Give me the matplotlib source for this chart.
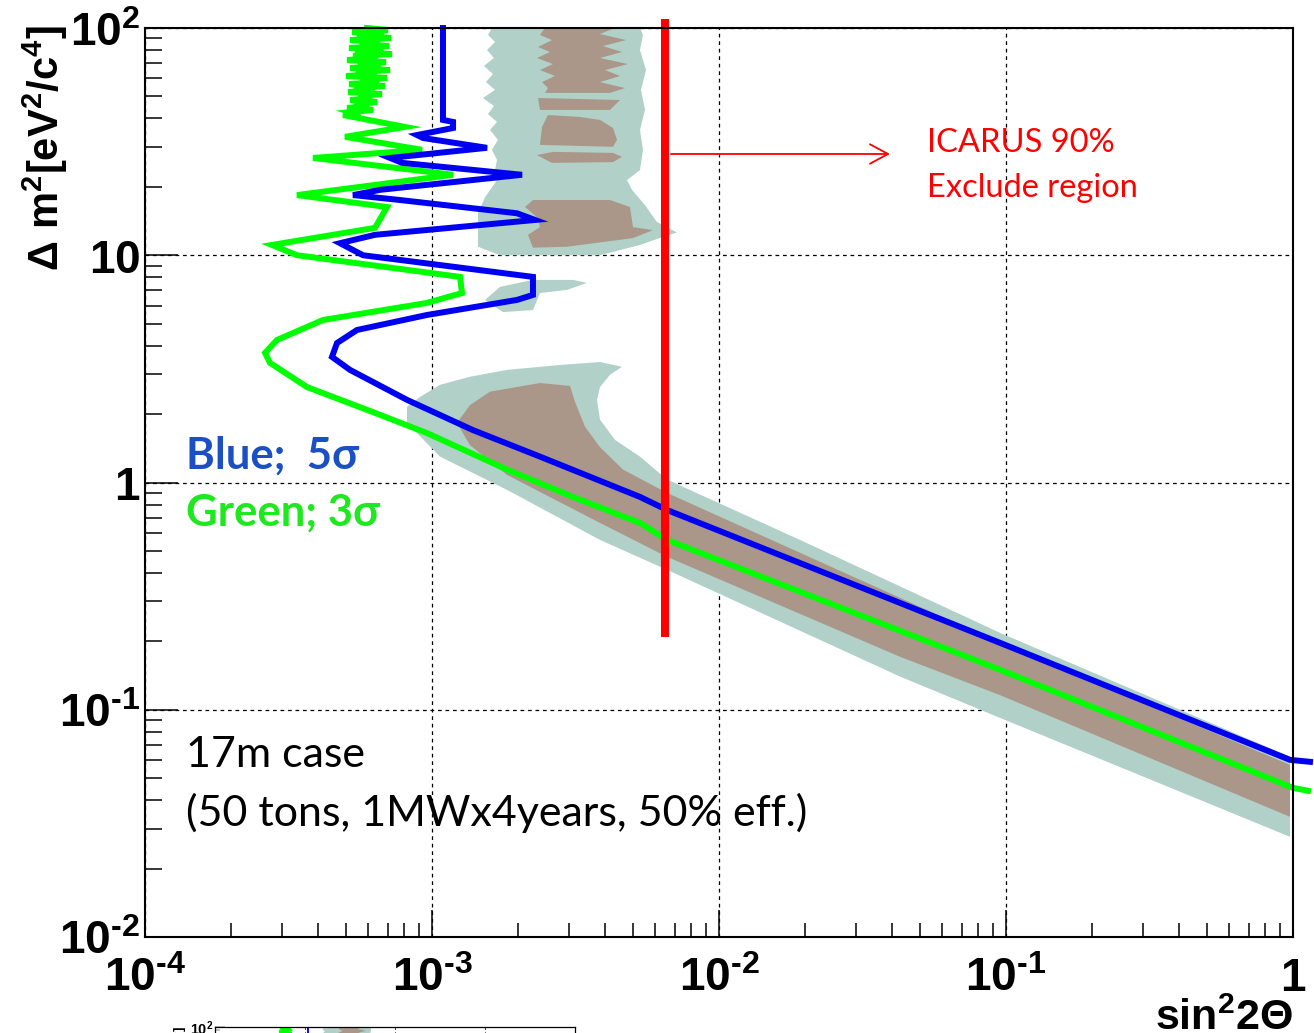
import numpy as np
import matplotlib
matplotlib.use("Agg")
import matplotlib.pyplot as plt
from matplotlib.ticker import LogLocator, NullFormatter

plt.rcParams['mathtext.fontset'] = 'custom'
for key in ('rm', 'bf', 'it', 'sf'):
    plt.rcParams['mathtext.' + key] = 'Liberation Sans:bold'

# ---------------- sensitivity curves (sin^2 2theta, delta m^2) ----------------
green_x = [5.937e-4, 7.027e-4, 5.264e-4, 6.805e-4, 5.480e-4, 7.198e-4, 5.180e-4, 6.589e-4,
           5.614e-4, 7.084e-4, 5.138e-4, 6.750e-4, 5.392e-4, 7.256e-4, 5.306e-4, 6.483e-4,
           5.057e-4, 6.915e-4, 5.524e-4, 6.642e-4, 5.180e-4, 7.141e-4, 5.435e-4, 6.381e-4,
           5.017e-4, 6.970e-4, 5.659e-4, 6.536e-4, 5.138e-4, 6.859e-4, 5.349e-4, 6.279e-4,
           5.098e-4, 6.696e-4, 5.568e-4, 6.180e-4, 5.180e-4, 6.432e-4, 5.392e-4, 6.033e-4,
           5.057e-4, 6.229e-4, 5.264e-4, 5.614e-4,
           4.897e-4, 8.051e-4, 4.977e-4, 9.231e-4, 3.849e-4, 1.184e-3, 3.385e-4, 6.970e-4,
           6.330e-4, 2.770e-4, 3.385e-4, 1.252e-3, 1.272e-3, 9.607e-4, 4.172e-4, 2.884e-4,
           2.619e-4, 2.726e-4, 3.668e-4, 6.229e-4, 9.607e-4, 1.826e-3, 3.099e-3, 5.305e-3,
           6.588e-3, 9.53e-2, 1.0, 1.128]
green_y = [100, 98.0, 96.0, 94.1, 92.2, 90.4, 88.5, 86.8,
           85.0, 83.3, 81.7, 80.0, 78.4, 76.8, 75.3, 73.8,
           72.3, 70.8, 69.4, 68.0, 66.7, 65.3, 64.0, 62.7,
           61.5, 60.3, 59.0, 57.8, 56.7, 55.5, 54.4, 53.3,
           52.3, 51.2, 50.2, 49.2, 48.2, 47.2, 46.3, 45.4,
           44.5, 43.6, 42.7, 41.8,
           41.4, 36.7, 33.2, 29.1, 26.8, 22.6, 18.4, 16.3,
           13.2, 11.1, 10.0, 8.03, 6.82, 6.17, 5.19, 4.24,
           3.72, 3.36, 2.63, 2.04, 1.65, 1.14, 0.864, 0.664,
           0.559, 0.150, 0.0453, 0.0440]

blue_x = [1.092e-3, 1.092e-3, 1.184e-3, 1.184e-3, 8.867e-4, 9.304e-4, 1.555e-3, 7.141e-4,
          7.861e-4, 2.059e-3, 6.589e-4, 5.306e-4, 7.736e-4, 1.978e-3, 2.285e-3, 6.330e-4,
          4.780e-4, 5.750e-4, 2.248e-3, 2.248e-3, 1.978e-3, 9.607e-4, 5.480e-4, 4.667e-4,
          4.482e-4, 5.180e-4, 8.182e-4, 1.390e-3, 2.378e-3, 5.305e-3, 6.588e-3, 9.53e-2,
          0.976, 1.146]
blue_y = [100, 39.4, 38.6, 36.3, 33.8, 32.8, 29.7, 26.8,
          25.5, 22.6, 19.4, 18.4, 17.5, 15.3, 14.3, 12.3,
          11.3, 10.0, 8.03, 6.69, 6.36, 5.46, 4.69, 4.11,
          3.57, 3.13, 2.31, 1.70, 1.30, 0.864, 0.757, 0.197,
          0.0602, 0.0590]

# ---------------- allowed regions (outer = 99%, inner = 90%) ----------------
top_outer_x = [1.618e-3, 1.567e-3, 1.658e-3, 1.555e-3, 1.644e-3, 1.517e-3, 1.631e-3, 1.542e-3,
               1.658e-3, 1.505e-3, 1.644e-3, 1.567e-3, 1.685e-3, 1.592e-3, 1.698e-3, 1.618e-3,
               1.685e-3, 1.658e-3, 1.685e-3, 1.530e-3, 1.446e-3, 1.446e-3, 1.726e-3, 3.849e-3,
               5.305e-3, 6.330e-3, 7.140e-3, 6.081e-3, 5.523e-3, 4.977e-3, 4.780e-3, 5.305e-3,
               5.434e-3, 5.305e-3, 5.523e-3, 5.348e-3, 5.567e-3, 5.305e-3, 5.434e-3, 5.305e-3]
top_outer_y = [100, 93.2, 86.8, 80.0, 73.8, 68.1, 62.7, 57.8,
               53.4, 49.2, 45.4, 41.8, 38.6, 35.6, 32.2, 29.1,
               26.3, 23.7, 21.4, 18.0, 15.3, 10.9, 10.0, 10.0,
               11.1, 12.0, 12.6, 14.0, 16.6, 19.4, 21.4, 23.7,
               29.1, 35.6, 43.6, 53.4, 65.3, 80.0, 93.2, 100]

inner_a_x = [2.476e-3, 2.378e-3, 2.619e-3, 2.341e-3, 2.577e-3, 2.322e-3, 2.640e-3, 2.378e-3,
             2.683e-3, 2.417e-3, 2.536e-3, 2.476e-3, 4.171e-3, 4.704e-3, 3.849e-3, 4.519e-3,
             4.007e-3, 4.818e-3, 3.849e-3, 4.592e-3, 3.943e-3, 4.742e-3, 3.849e-3, 4.342e-3]
inner_a_y = [100, 93.2, 88.5, 82.5, 78.4, 73.8, 69.4, 65.3,
             61.5, 57.8, 54.4, 51.8, 51.8, 54.4, 57.8, 61.5,
             65.3, 69.4, 73.8, 78.4, 83.3, 88.5, 94.1, 100]
inner_b_x = [2.341e-3, 4.519e-3, 4.171e-3, 2.378e-3]
inner_b_y = [49.2, 48.2, 43.6, 43.6]
inner_c_x = [2.536e-3, 3.279e-3, 3.849e-3, 4.273e-3, 4.412e-3, 4.273e-3, 2.378e-3, 2.417e-3]
inner_c_y = [41.4, 40.6, 39.4, 36.3, 32.2, 30.0, 30.6, 36.7]
inner_d_x = [2.322e-3, 2.640e-3, 4.273e-3, 4.592e-3, 4.273e-3, 2.619e-3]
inner_d_y = [27.6, 28.5, 28.2, 27.1, 25.7, 25.5]
inner_e_x = [2.109e-3, 2.248e-3, 4.171e-3, 4.897e-3, 5.015e-3, 5.888e-3, 5.015e-3, 2.954e-3,
             2.248e-3, 2.160e-3, 2.378e-3, 2.322e-3]
inner_e_y = [16.3, 17.5, 17.5, 16.3, 13.3, 12.9, 11.9, 10.9,
             10.8, 12.3, 13.3, 14.7]

island_x = [1.530e-3, 1.726e-3, 2.248e-3, 3.099e-3, 3.468e-3, 2.954e-3, 2.378e-3, 2.248e-3, 1.768e-3]
island_y = [6.36, 7.26, 7.79, 7.79, 7.56, 7.04, 6.82, 5.74, 5.62]

low_outer_x = [8.182e-4, 9.083e-4, 1.066e-3, 1.356e-3, 1.826e-3, 2.793e-3, 3.849e-3, 4.592e-3,
               4.171e-3, 3.849e-3, 3.758e-3, 3.849e-3, 4.342e-3, 5.305e-3, 6.588e-3, 1.915e-2,
               9.53e-2, 0.976, 0.976, 9.53e-2, 4.273e-2, 6.588e-3, 3.849e-3, 1.826e-3,
               1.066e-3, 8.182e-4]
low_outer_y = [2.15, 2.38, 2.69, 2.92, 3.13, 3.29, 3.39, 3.23,
               2.98, 2.63, 2.31, 1.89, 1.54, 1.30, 1.03, 0.559,
               0.218, 0.0621, 0.0276, 0.0921, 0.140, 0.413, 0.559, 0.928,
               1.30, 1.83]
low_inner_x = [1.222e-3, 1.356e-3, 1.592e-3, 2.378e-3, 3.026e-3, 3.150e-3, 3.413e-3, 3.849e-3,
               4.629e-3, 6.588e-3, 9.53e-2, 0.976, 0.976, 9.53e-2, 4.273e-2, 6.588e-3,
               3.849e-3, 1.826e-3, 1.356e-3]
low_inner_y = [1.83, 2.19, 2.51, 2.74, 2.66, 2.26, 1.76, 1.43,
               1.14, 0.900, 0.197, 0.0572, 0.0338, 0.116, 0.171, 0.471,
               0.664, 1.08, 1.46]

# ---------------- ICARUS limit ----------------
icarus_x = 6.5e-3
icarus_y = [0.21, 110]
arrow_y = 27.9
arrow_x = [6.8e-3, 3.94e-2]

x_ticks = [1e-4, 1e-3, 1e-2, 1e-1, 1]
x_labels = [r'$10^{\text{-4}}$', r'$10^{\text{-3}}$', r'$10^{\text{-2}}$',
            r'$10^{\text{-1}}$', r'$1$']
y_ticks = [1e-2, 1e-1, 1, 10, 100]
y_labels = [r'$10^{\text{-2}}$', r'$10^{\text{-1}}$', r'$1$', r'$10$', r'$10^{2}$']

TEAL = '#b0d0c8'
BROWN = '#ab9789'
GREEN = '#00ff00'
BLUE = '#0000f0'

W, H = 1314, 1033
fig = plt.figure(figsize=(W / 100, H / 100), dpi=100)


def draw_panel(ax, s, full=True):
    ax.set_xscale('log')
    ax.set_yscale('log')
    ax.set_xlim(1e-4, 1)
    ax.set_ylim(1e-2, 1e2)
    ax.set_axisbelow(True)
    ax.grid(True, which='major', color='black', ls=(0, (3, 3)), lw=0.9 * max(s, 0.6))

    for xs, ys, c in [(top_outer_x, top_outer_y, TEAL), (island_x, island_y, TEAL),
                      (low_outer_x, low_outer_y, TEAL),
                      (inner_a_x, inner_a_y, BROWN), (inner_b_x, inner_b_y, BROWN),
                      (inner_c_x, inner_c_y, BROWN), (inner_d_x, inner_d_y, BROWN),
                      (inner_e_x, inner_e_y, BROWN), (low_inner_x, low_inner_y, BROWN)]:
        ax.fill(xs, ys, color=c, lw=0, zorder=1)

    ax.plot(green_x, green_y, color=GREEN, lw=4.3 * s, solid_joinstyle='miter',
            zorder=3, clip_on=not full)
    ax.plot(blue_x, blue_y, color=BLUE, lw=4.3 * s, solid_joinstyle='miter',
            zorder=3, clip_on=not full)

    for sp in ax.spines.values():
        sp.set_linewidth(1.5 * max(s, 0.6))
        sp.set_zorder(5)

    ax.set_xticks(x_ticks)
    ax.set_xticklabels(x_labels)
    ax.set_yticks(y_ticks)
    ax.set_yticklabels(y_labels)
    for axis in (ax.xaxis, ax.yaxis):
        axis.set_minor_locator(LogLocator(base=10, subs=np.arange(2, 10), numticks=20))
        axis.set_minor_formatter(NullFormatter())
    ax.tick_params(axis='x', which='major', direction='in', length=19.5 * s,
                   width=1.1 * s, labelsize=33 * s, pad=14 * s)
    ax.tick_params(axis='x', which='minor', direction='in', length=10 * s, width=1.1 * s)
    ax.tick_params(axis='y', which='major', direction='in', length=23.5 * s,
                   width=1.1 * s, labelsize=33 * s, pad=3.5 * s)
    ax.tick_params(axis='y', which='minor', direction='in', length=12 * s, width=1.1 * s)
    ax.tick_params(top=False, right=False, which='both')

    if not full:
        return

    ax.plot([icarus_x, icarus_x], icarus_y, color='#ff0000', lw=5.8,
            solid_capstyle='butt', zorder=4, clip_on=False)
    ax.annotate('', xy=(arrow_x[1], arrow_y), xytext=(arrow_x[0], arrow_y),
                arrowprops=dict(arrowstyle='->,head_length=0.65,head_width=0.35',
                                color='#ff0000', lw=1.3, mutation_scale=20,
                                shrinkA=0, shrinkB=0), zorder=4)

    cal = ['Lato', 'DejaVu Sans']
    ax.text(0.681, 0.8735, 'ICARUS 90%', transform=ax.transAxes, color='#ff0000',
            fontsize=23.5, family=cal, ha='left', va='center')
    ax.text(0.681, 0.824, 'Exclude region', transform=ax.transAxes, color='#ff0000',
            fontsize=23.5, family=cal, ha='left', va='center')
    ax.text(0.0357, 0.530, 'Blue;  5σ', transform=ax.transAxes, color='#1a50c4',
            fontsize=31.5, family=cal, fontweight='bold', ha='left', va='center')
    ax.text(0.0357, 0.4664, 'Green; 3σ', transform=ax.transAxes, color='#1ee81e',
            fontsize=31.5, family=cal, fontweight='bold', ha='left', va='center')
    ax.text(0.0357, 0.1997, '17m case', transform=ax.transAxes, color='black',
            fontsize=31, family=cal, ha='left', va='center')
    ax.text(0.0357, 0.137, '(50 tons, 1MWx4years, 50% eff.)', transform=ax.transAxes,
            color='black', fontsize=31, family=cal, ha='left', va='center')


# main panel
L, R, T, B = 145, 1293, 28, 937
ax = fig.add_axes([L / W, 1 - B / H, (R - L) / W, (B - T) / H])
draw_panel(ax, 1.0, full=True)

fig.text(R / W, 1 - 997 / H, r'$\mathrm{sin^{2}2\Theta}$', fontsize=31,
         ha='right', va='top')
fig.text(45 / W, 1 - 148 / H, r'$\Delta\ \mathrm{m^{2}[eV^{2}/c^{4}]}$', fontsize=30,
         rotation=90, ha='center', va='center')

# small copy of the same plot at the bottom edge; only its top strip is in frame
s = 360 / (R - L)
tL, tR, tT = 215, 575, 1027
tH = (B - T) * s
ax2 = fig.add_axes([tL / W, 1 - (tT + tH) / H, (tR - tL) / W, tH / H])
draw_panel(ax2, s, full=False)
ax2.tick_params(labelbottom=False)
for lab in ax2.get_yticklabels()[:-1]:
    lab.set_visible(False)
ax2.text(-0.097, 1.004, r'$\Delta\ \mathrm{m^{2}[eV^{2}/c^{4}]}$', transform=ax2.transAxes,
         fontsize=30 * s, rotation=90, ha='center', va='top')

fig.savefig('out.png', dpi=100)
